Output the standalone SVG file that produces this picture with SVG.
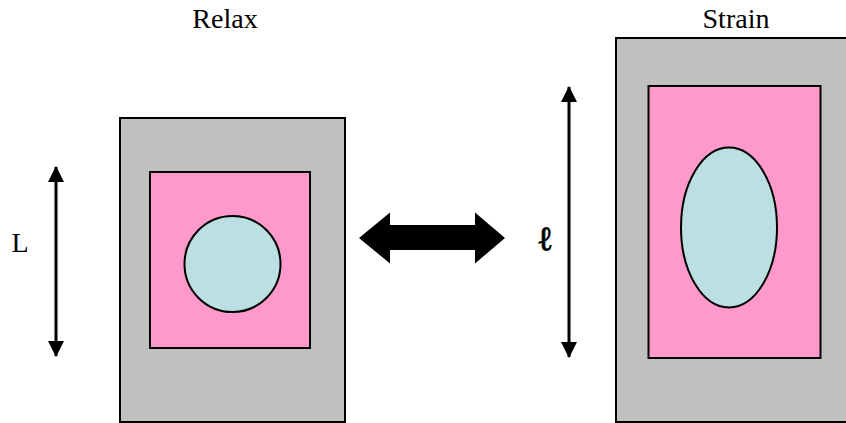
<svg xmlns="http://www.w3.org/2000/svg" width="846" height="423" viewBox="0 0 846 423">
<defs>
<style>
.frame{fill:#c0c0c0;stroke:#000;stroke-width:2}
.cell{fill:#ff99cc;stroke:#000;stroke-width:2}
.nuc{fill:#bbdfe2;stroke:#000;stroke-width:2}
.lbl{font-family:"Liberation Serif","Times New Roman",serif;font-size:28px;fill:#000;text-anchor:middle}
.dim{stroke:#000;stroke-width:3;fill:none}
</style>
<marker id="ah" viewBox="0 0 16 16" refX="15" refY="8" markerWidth="16" markerHeight="16" markerUnits="userSpaceOnUse" orient="auto-start-reverse">
<path d="M0,0 L16,8 L0,16 Z" fill="#000"/>
</marker>
</defs>
<rect width="846" height="423" fill="#fff"/>
<g id="relax">
<text class="lbl" x="225" y="28">Relax</text>
<rect class="frame" x="120" y="118" width="225" height="304"/>
<rect class="cell" x="150" y="172" width="160" height="176"/>
<circle class="nuc" cx="232.5" cy="264" r="48"/>
</g>
<g id="strain">
<text class="lbl" x="736" y="28">Strain</text>
<rect class="frame" x="616" y="38" width="240" height="384"/>
<rect class="cell" x="648.5" y="86" width="172" height="272"/>
<ellipse class="nuc" cx="729" cy="227.5" rx="48" ry="80"/>
</g>
<g id="label-L">
<text class="lbl" x="20" y="252">L</text>
</g>
<g id="label-l">
<text x="545" y="250" font-family="'DejaVu Serif',serif" font-size="34" font-weight="bold" fill="#000" stroke="#000" stroke-width="0.8" text-anchor="middle">ℓ</text>
</g>
<g id="connectors">
<line class="dim" x1="56" y1="167" x2="56" y2="356" marker-start="url(#ah)" marker-end="url(#ah)"/>
<line class="dim" x1="569" y1="87" x2="569" y2="357" marker-start="url(#ah)" marker-end="url(#ah)"/>
<path d="M359,238 L390,212.5 L390,225 L475,225 L475,212.5 L505,238 L475,263.5 L475,250 L390,250 L390,263.5 Z" fill="#000"/>
</g>
</svg>
